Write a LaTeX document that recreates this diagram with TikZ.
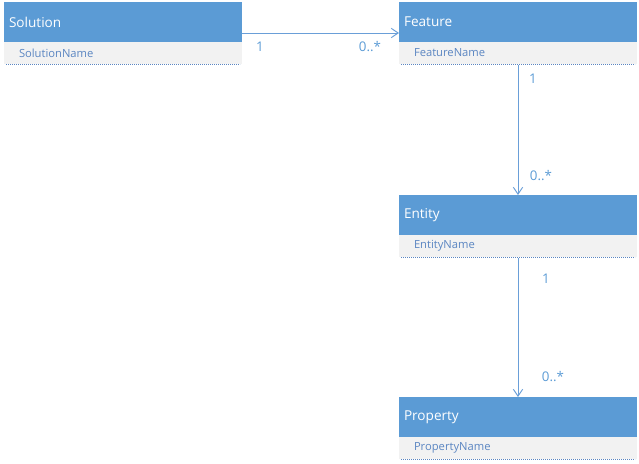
\documentclass[tikz,border=0pt]{standalone}
\usepackage{fontspec}
\setmainfont{Open Sans}
\usetikzlibrary{arrows.meta,positioning}
\definecolor{head}{HTML}{5B9BD5}
\definecolor{attrbg}{HTML}{F2F2F2}
\definecolor{attrtx}{HTML}{5B86C2}
\definecolor{link}{HTML}{6A9FD8}

\begin{document}
\begin{tikzpicture}[x=0.75pt,y=-0.75pt,
  classhead/.style={fill=head, text=white, anchor=north west, outer sep=0pt,
    inner xsep=3.75pt, text width=171pt, minimum height=30pt, align=left,
    font=\fontsize{10.2}{12}\selectfont},
  classattr/.style={fill=attrbg, text=attrtx, outer sep=0pt, below=0pt of #1,
    inner xsep=11.25pt, text width=156pt, minimum height=16.5pt, align=left,
    font=\fontsize{8.4}{10}\selectfont},
  dotline/.style={draw=attrtx, line width=0.5pt, dash pattern=on 0.6pt off 0.9pt},
  assoc/.style={draw=link, line width=0.7pt, -{Straight Barb[length=5.2pt, width=7pt]}},
  mult/.style={text=head, font=\fontsize{10}{12}\selectfont, inner sep=0pt}]

\path[use as bounding box] (0,0) rectangle (639,464);

% ------------------------------------------------------------------ classes
\node[classhead] (solh) at (4,2) {Solution};
\node[classattr=solh] (solb) {SolutionName};

\node[classhead] (feath) at (399,2) {Feature};
\node[classattr=feath] (featb) {FeatureName};

\node[classhead] (enth) at (399,195) {Entity};
\node[classattr=enth] (entb) {EntityName};

\node[classhead] (proph) at (399,397) {Property};
\node[classattr=proph] (propb) {PropertyName};

% dotted bottom rule of each attribute box
\foreach \b in {solb,featb,entb,propb}
  {\draw[dotline] ([xshift=1.5pt]\b.south west) -- ([xshift=-1.5pt]\b.south east);}

% ------------------------------------------------------------- associations
\draw[assoc] ([yshift=-8.25pt]solh.east) -- ([yshift=-8.25pt]feath.west)
  node[mult, pos=0.115, yshift=-10.5pt] {1}
  node[mult, pos=0.815, yshift=-10.5pt] {0..*};

\draw[assoc] ([yshift=-1pt]featb.south) -- (enth.north)
  node[mult, pos=0.1, xshift=11.25pt] {1}
  node[mult, pos=0.85, xshift=17.25pt] {0..*};

\draw[assoc] ([yshift=-1pt]entb.south) -- (proph.north)
  node[mult, pos=0.15, xshift=21pt] {1}
  node[mult, pos=0.85, xshift=26.25pt] {0..*};
\end{tikzpicture}
\end{document}
